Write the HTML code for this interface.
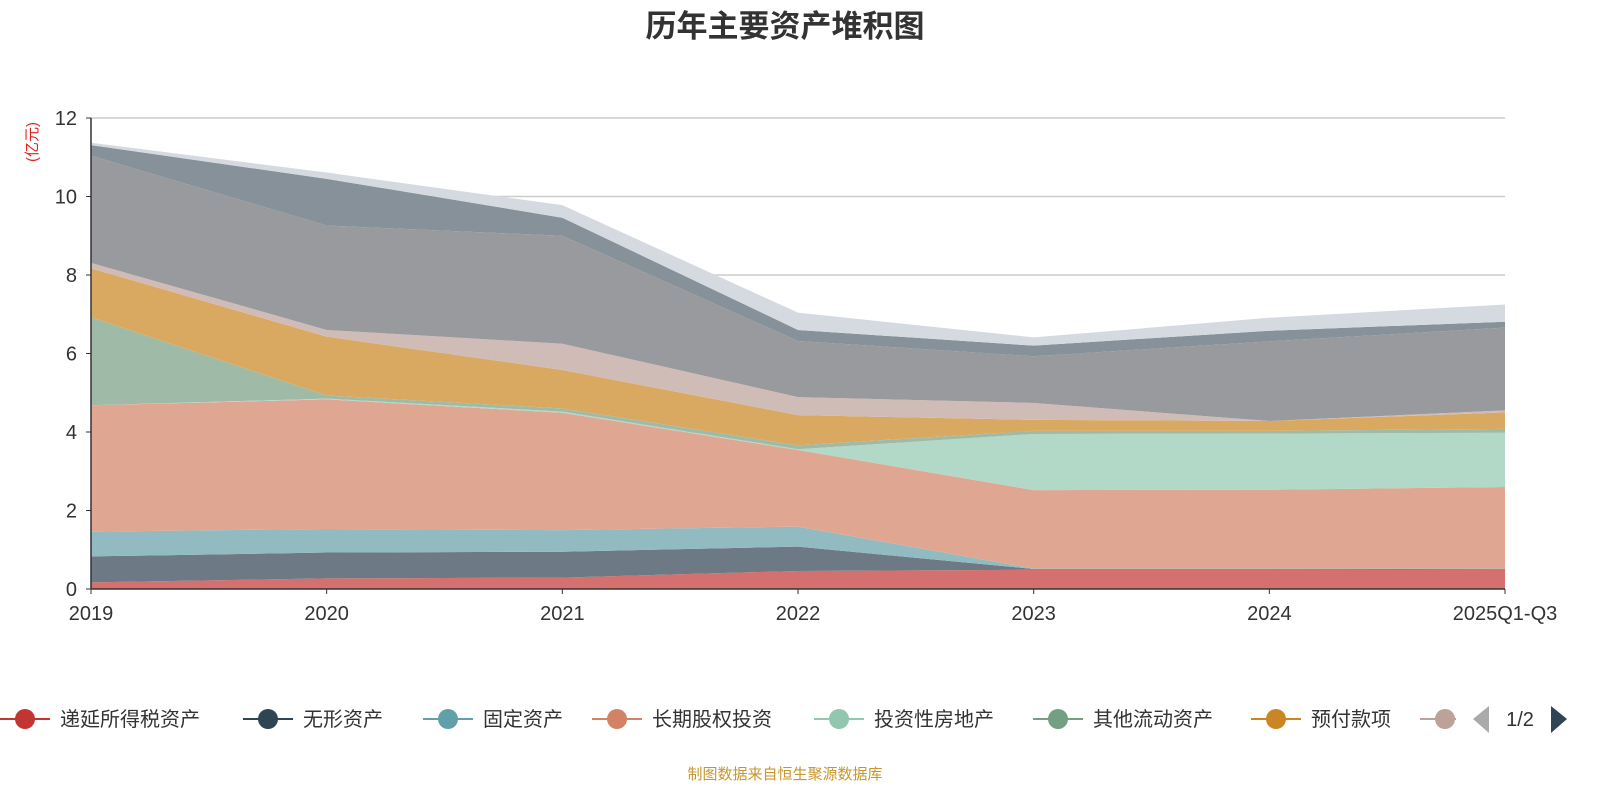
<!DOCTYPE html>
<html><head><meta charset="utf-8">
<style>
body{margin:0;background:#fff;font-family:"Liberation Sans","Noto Sans CJK SC",sans-serif;}
svg text{font-family:"Liberation Sans","Noto Sans CJK SC",sans-serif;}
</style></head>
<body>
<svg id="chart" width="1600" height="800" xmlns="http://www.w3.org/2000/svg">
<text x="785" y="37" text-anchor="middle" font-size="31" font-weight="bold" fill="#333">历年主要资产堆积图</text>
<text transform="translate(37,142) rotate(-90)" text-anchor="middle" font-size="15" fill="#e02020">(亿元)</text>
<g id="grid"></g>
<g id="areas"></g>
<g id="axes"></g>
<g id="legend"></g>
<text x="785" y="779" text-anchor="middle" font-size="15" fill="#c8962c">制图数据来自恒生聚源数据库</text>
</svg>
<script>
const categories=["2019","2020","2021","2022","2023","2024","2025Q1-Q3"];
const seriesNames=["递延所得税资产","无形资产","固定资产","长期股权投资","投资性房地产","其他流动资产","预付款项","其他非流动资产","货币资金","应收账款","其他"];
const sDeferredTax=[0.17,0.27,0.29,0.46,0.49,0.49,0.50];
const sIntangible=[0.66,0.66,0.66,0.62,0.02,0.02,0.01];
const sFixed=[0.63,0.60,0.55,0.51,0.01,0.01,0.01];
const sLongEquity=[3.22,3.30,2.99,1.95,2.00,2.01,2.08];
const sInvestProp=[0,0.02,0.03,0.02,1.43,1.43,1.38];
const sOtherCurrent=[2.24,0.08,0.08,0.10,0.08,0.07,0.10];
const sPrepaid=[1.25,1.50,0.98,0.77,0.28,0.25,0.42];
const sPink=[0.14,0.17,0.67,0.46,0.43,0,0.05];
const sGray=[2.73,2.66,2.75,1.43,1.19,2.03,2.11];
const sSlate=[0.27,1.19,0.46,0.28,0.27,0.27,0.15];
const sLight=[0.06,0.16,0.32,0.44,0.21,0.33,0.44];
const yTicks=[0,2,4,6,8,10,12];
const series=[sDeferredTax,sIntangible,sFixed,sLongEquity,sInvestProp,sOtherCurrent,sPrepaid,sPink,sGray,sSlate,sLight];
const fills=["#d4706d","#6d7a85","#91bbc1","#dfa792","#b2d8c7","#9fbba8","#d9a962","#d0bcb7","#999a9e","#869199","#d5dae0"];
const legendColors=["#c23531","#2f4554","#61a0a8","#d48265","#91c7ae","#749f83","#ca8622","#bda29a"];
const NS="http://www.w3.org/2000/svg";
const X0=91,X1=1505,Y0=589,Y1=118,YMAX=12;
const xs=i=>X0+(X1-X0)*i/(categories.length-1);
const ys=v=>Y0-(Y0-Y1)*v/YMAX;
function mk(tag,attrs,parent){const e=document.createElementNS(NS,tag);for(const k in attrs)e.setAttribute(k,attrs[k]);parent.appendChild(e);return e;}
const grid=document.getElementById('grid'),areas=document.getElementById('areas'),axes=document.getElementById('axes'),legend=document.getElementById('legend');
yTicks.forEach(t=>{
 if(t>0){const l=mk('line',{x1:X0,x2:X1,y1:ys(t),y2:ys(t),stroke:'#ccc','stroke-width':1.5},grid);
 
 }
 const tx=mk('text',{x:X0-14,y:ys(t)+7,'text-anchor':'end','font-size':20,fill:'#333'},axes);tx.textContent=t;
 
 
 mk('line',{x1:X0-5,x2:X0,y1:ys(t),y2:ys(t),stroke:'#333'},axes);
});
let base=categories.map(()=>0);
series.forEach((s,si)=>{
 const top=base.map((b,i)=>b+s[i]);
 let d='M'+categories.map((c,i)=>xs(i)+','+ys(top[i])).join(' L');
 for(let i=categories.length-1;i>=0;i--)d+=' L'+xs(i)+','+ys(base[i]);
 const p=mk('path',{d:d+'Z',fill:fills[si]},areas);
 
 
 base=top;
});
mk('line',{x1:X0,x2:X0,y1:Y1,y2:Y0,stroke:'#333','stroke-width':1.5},axes);
mk('line',{x1:X0,x2:X1,y1:Y0,y2:Y0,stroke:'#333','stroke-width':1.5},axes);
categories.forEach((c,i)=>{
 mk('line',{x1:xs(i),x2:xs(i),y1:Y0,y2:Y0+5,stroke:'#333'},axes);
 const t=mk('text',{x:xs(i),y:Y0+31,'text-anchor':'middle','font-size':20,fill:'#333'},axes);t.textContent=c;
 
 
});
const lx=[25,268,448,617,839,1058,1276,1445];
seriesNames.slice(0,8).forEach((n,i)=>{
 const g=mk('g',{},legend);
 
 
 mk('line',{x1:lx[i]-25,x2:lx[i]+25,y1:719,y2:719,stroke:legendColors[i],'stroke-width':2},g);
 mk('circle',{cx:lx[i],cy:719,r:10,fill:legendColors[i]},g);
 if(i<7){const t=mk('text',{x:lx[i]+35,y:726,'font-size':20,fill:'#333'},g);t.textContent=n;}
});
mk('rect',{x:1456,y:700,width:144,height:40,fill:'#fff'},legend);
const pl=mk('path',{d:'M1489,706 L1473,719 L1489,733Z',fill:'#aaa'},legend);


const pg=mk('text',{x:1520,y:726,'text-anchor':'middle','font-size':20,fill:'#333'},legend);pg.textContent='1/2';


const pn=mk('path',{d:'M1551,706 L1567,719 L1551,733Z',fill:'#2f4554'},legend);


</script>
</body></html>
